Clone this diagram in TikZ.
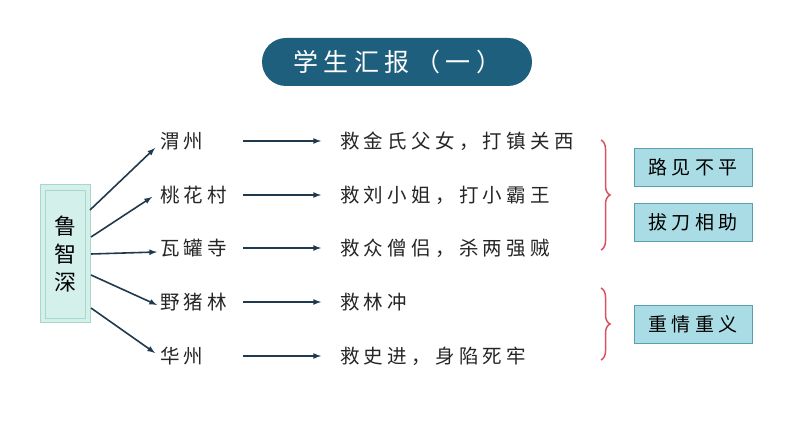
\documentclass[tikz,border=0pt]{standalone}
\usepackage{fontspec}
\newfontfamily\cjk{Noto Sans CJK SC}
\newfontfamily\cjksp{Noto Sans CJK SC}[LetterSpace=22]
\usetikzlibrary{decorations.pathreplacing}
\definecolor{titlec}{HTML}{1E5F7E}
\definecolor{arr}{HTML}{1F3A4F}
\definecolor{lbox}{HTML}{D4F0EA}
\definecolor{lbord}{HTML}{A8D8CC}
\definecolor{rbox}{HTML}{A9DCE4}
\definecolor{rbord}{HTML}{5A9FB0}
\definecolor{brc}{HTML}{D9535F}
\tikzset{
 txt/.style={font=\cjksp\fontsize{19.5}{22}\selectfont, anchor=west, inner sep=0pt, text=black!85},
 ar/.style={-latex, draw=arr, line width=1.6pt},
 tag/.style={draw=rbord, fill=rbox, minimum width=118pt, minimum height=38pt, font=\cjksp\fontsize{19}{22}\selectfont, line width=0.8pt},
 brace/.style={draw=brc, line width=1.5pt, decorate, decoration={brace, amplitude=9pt}}
}
\begin{document}
\begin{tikzpicture}[x=1pt,y=1pt]
\useasboundingbox[fill=white] (0,0) rectangle (794,447);
\node[fill=titlec, rounded corners=24pt, minimum width=270pt, minimum height=48pt, text=white, font=\cjksp\fontsize{25}{28}\selectfont] (title) at (397,385) {学生汇报（一）};
\node[draw=lbord, fill=lbox, minimum width=50pt, minimum height=138pt, line width=1pt] (lu) at (65,193) {};
\node[draw=lbord, minimum width=40pt, minimum height=128pt, line width=0.8pt, font=\cjk\fontsize{22}{28}\selectfont, align=center] (luin) at (65,193) {鲁\\智\\深};
\foreach \n/\t/\r/\y in {a/渭州/救金氏父女，打镇关西/306, b/桃花村/救刘小姐，打小霸王/252, c/瓦罐寺/救众僧侣，杀两强贼/199, d/野猪林/救林冲/145, e/华州/救史进，身陷死牢/91}{
  \node[txt] (p\n) at (160,\y) {\t};
  \coordinate (s\n) at (243,\y);
  \coordinate (e\n) at (321,\y);
  \node[txt] (r\n) at (340,\y) {\r};
  \draw[ar] (s\n) -- (e\n);
}
\coordinate (la) at (90,237); \coordinate (lb) at (91,210); \coordinate (lc) at (91,193);
\coordinate (ld) at (91,172); \coordinate (le) at (91,139);
\coordinate (ta) at (155,299); \coordinate (tb) at (152,250); \coordinate (tc) at (157,195);
\coordinate (td) at (157,142); \coordinate (te) at (155,94);
\foreach \n in {a,b,c,d,e}{\draw[ar] (l\n) -- (t\n);}
\draw[brace] (601,307) -- (601,197);
\draw[brace] (601,159) -- (601,87);
\node[tag] (t1) at (693,280) {路见不平};
\node[tag] (t2) at (693,225) {拔刀相助};
\node[tag] (t3) at (693,123) {重情重义};
\end{tikzpicture}
\end{document}
